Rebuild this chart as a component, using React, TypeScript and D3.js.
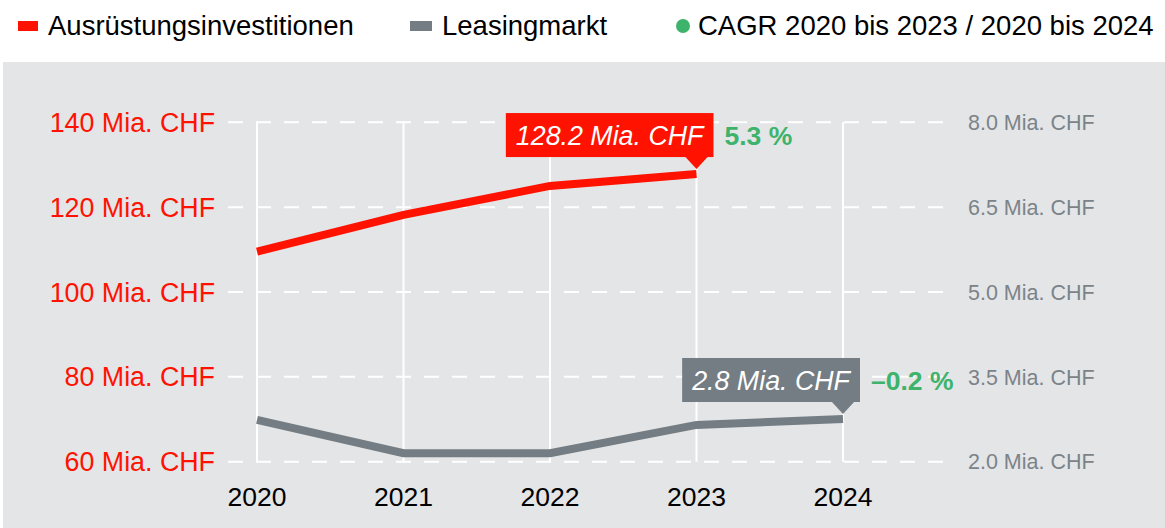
import React, { useEffect, useRef } from 'react';
import * as d3 from 'd3';

const years = ['2020', '2021', '2022', '2023', '2024'];
const investValues = [109.5, 118.2, 125.0, 127.8];
const leasingValues = [2.74, 2.15, 2.15, 2.65, 2.755];
const leftTicks = [60, 80, 100, 120, 140];
const rightTicks = [2.0, 3.5, 5.0, 6.5, 8.0];
const legendItems = ['Ausrüstungsinvestitionen', 'Leasingmarkt', 'CAGR 2020 bis 2023 / 2020 bis 2024'];
const investLabel = '128.2 Mia. CHF';
const leasingLabel = '2.8 Mia. CHF';
const investCagr = '5.3 %';
const leasingCagr = '–0.2 %';

const W = 1165;
const H = 528;
const RED = '#ff1200';
const GREY = '#737d83';
const GREEN = '#3db36b';
const FONT = '"Liberation Sans", Arial, sans-serif';

export default function App() {
  const svgRef = useRef<SVGSVGElement>(null);

  useEffect(() => {
    const svg = d3.select(svgRef.current);
    svg.selectAll('*').remove();
    svg.attr('width', W).attr('height', H).attr('viewBox', `0 0 ${W} ${H}`).style('font-family', FONT);

    svg.append('rect').attr('x', 3).attr('y', 62).attr('width', W - 3).attr('height', H - 62).attr('fill', '#e4e5e7');

    const x = d3.scalePoint<string>().domain(years).range([257, 843]);
    const yL = d3.scaleLinear().domain([60, 140]).range([461.7, 122.3]);
    const yR = d3.scaleLinear().domain([2, 8]).range([461.7, 122.3]);

    // grid
    const grid = svg.append('g');
    leftTicks.forEach(t => {
      grid.append('line')
        .attr('x1', 228).attr('x2', 948)
        .attr('y1', yL(t)).attr('y2', yL(t))
        .attr('stroke', '#fff').attr('stroke-width', 2)
        .attr('stroke-dasharray', '15,13');
    });
    years.forEach(yr => {
      grid.append('line')
        .attr('x1', x(yr)).attr('x2', x(yr))
        .attr('y1', yL(140)).attr('y2', yL(60))
        .attr('stroke', '#fff').attr('stroke-width', 2);
    });

    // axis labels
    leftTicks.forEach(t => {
      svg.append('text')
        .attr('x', 215).attr('y', yL(t)).attr('dy', '0.36em')
        .attr('text-anchor', 'end').attr('font-size', 26.8).attr('fill', RED)
        .text(`${t} Mia. CHF`);
    });
    rightTicks.forEach(t => {
      svg.append('text')
        .attr('x', 968).attr('y', yR(t)).attr('dy', '0.36em')
        .attr('font-size', 21.5).attr('fill', '#7b8389')
        .text(`${t.toFixed(1)} Mia. CHF`);
    });
    years.forEach(yr => {
      svg.append('text')
        .attr('x', x(yr)).attr('y', 506)
        .attr('text-anchor', 'middle').attr('font-size', 26.5).attr('fill', '#000')
        .text(yr);
    });

    // lines
    const investLine = d3.line<number>().x((d, i) => x(years[i])!).y(d => yL(d));
    const leasingLine = d3.line<number>().x((d, i) => x(years[i])!).y(d => yR(d));
    svg.append('path').attr('d', investLine(investValues)).attr('fill', 'none')
      .attr('stroke', RED).attr('stroke-width', 8);
    svg.append('path').attr('d', leasingLine(leasingValues)).attr('fill', 'none')
      .attr('stroke', GREY).attr('stroke-width', 8);

    // callouts
    const callout = (px: number, py: number, label: string, color: string, cagr: string) => {
      const g = svg.append('g');
      const boxBottom = py - 17;
      const txt = g.append('text')
        .attr('font-size', 26.8).attr('font-style', 'italic').attr('fill', '#fff')
        .text(label);
      const tw = (txt.node() as SVGTextElement).getComputedTextLength();
      const pad = 10;
      const right = px + 17;
      const left = right - tw - 2 * pad;
      const top = boxBottom - 44;
      g.insert('rect', 'text').attr('x', left).attr('y', top).attr('width', right - left).attr('height', 44).attr('fill', color);
      g.insert('path', 'text')
        .attr('d', `M${px - 12},${boxBottom - 1}L${px + 12},${boxBottom - 1}L${px},${boxBottom + 12}Z`)
        .attr('fill', color);
      txt.attr('x', left + pad).attr('y', top + 32);
      g.append('text').attr('x', right + 11).attr('y', top + 32)
        .attr('font-size', 26.5).attr('font-weight', 'bold').attr('fill', GREEN)
        .text(cagr);
    };
    callout(x('2023')!, yL(investValues[3]), investLabel, RED, investCagr);
    callout(x('2024')!, yR(leasingValues[4]), leasingLabel, GREY, leasingCagr);

    // legend
    const leg = svg.append('g').attr('font-size', 27.5).attr('fill', '#000');
    leg.append('rect').attr('x', 18).attr('y', 21).attr('width', 20).attr('height', 10).attr('fill', RED);
    leg.append('text').attr('x', 48).attr('y', 35).text(legendItems[0]);
    leg.append('rect').attr('x', 410).attr('y', 21).attr('width', 22).attr('height', 10).attr('fill', GREY);
    leg.append('text').attr('x', 442).attr('y', 35).text(legendItems[1]);
    leg.append('circle').attr('cx', 683).attr('cy', 26).attr('r', 7).attr('fill', GREEN);
    leg.append('text').attr('x', 698).attr('y', 35).text(legendItems[2]);
  }, []);

  return (
    <div style={{ position: 'fixed', top: 0, left: 0, width: W, height: H, background: '#fff' }}>
      <svg ref={svgRef} style={{ display: 'block' }} />
    </div>
  );
}
